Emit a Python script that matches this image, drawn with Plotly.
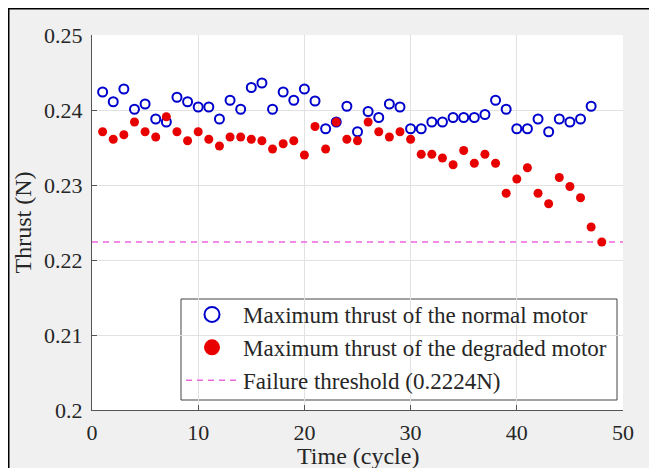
import plotly.graph_objects as go

cycles_normal = list(range(1, 48))
thrust_normal = [0.2424, 0.2411, 0.2428, 0.2401, 0.2408, 0.2388, 0.2384, 0.2417, 0.2411, 0.2404,
                 0.2404, 0.2388, 0.2413, 0.2401, 0.2430, 0.2436, 0.2401, 0.2424, 0.2413, 0.2428,
                 0.2412, 0.2375, 0.2384, 0.2405, 0.2371, 0.2398, 0.2390, 0.2408, 0.2404, 0.2375,
                 0.2375, 0.2384, 0.2384, 0.2390, 0.2390, 0.2390, 0.2394, 0.2413, 0.2401, 0.2375,
                 0.2375, 0.2388, 0.2371, 0.2388, 0.2384, 0.2388, 0.2405]

cycles_degraded = list(range(1, 49))
thrust_degraded = [0.2371, 0.2361, 0.2367, 0.2384, 0.2371, 0.2364, 0.2391, 0.2371, 0.2359, 0.2371,
                   0.2361, 0.2352, 0.2364, 0.2364, 0.2361, 0.2359, 0.2348, 0.2355, 0.2359, 0.2340,
                   0.2378, 0.2348, 0.2384, 0.2361, 0.2359, 0.2384, 0.2371, 0.2364, 0.2371, 0.2361,
                   0.2341, 0.2341, 0.2336, 0.2327, 0.2346, 0.2329, 0.2341, 0.2329, 0.2289, 0.2308,
                   0.2323, 0.2289, 0.2275, 0.2310, 0.2298, 0.2283, 0.2244, 0.2224]

threshold = 0.2224
threshold_x = [0, 50]

x_ticks = [0, 10, 20, 30, 40, 50]
y_ticks = [0.2, 0.21, 0.22, 0.23, 0.24, 0.25]
y_ticktext = ["0.2", "0.21", "0.22", "0.23", "0.24", "0.25"]

x_title = "Time (cycle)"
y_title = "Thrust (N)"
legend_names = ["Maximum thrust of the normal motor",
                "Maximum thrust of the degraded motor",
                "Failure threshold (0.2224N)"]

BLUE = "#0000cd"
RED = "#e80000"
PINK = "#ee66dd"
FONT = "Liberation Serif"
TXT = "#262626"

W, H = 657, 468
L, R, T, B = 84, 42, 27, 66
pw, ph = W - L - R, H - T - B


def px_x(x):
    return (x - L) / pw


def px_y(y):
    return (H - B - y) / ph


fig = go.Figure()

fig.add_trace(go.Scatter(
    x=threshold_x, y=[threshold] * len(threshold_x), mode="lines",
    line=dict(color=PINK, width=1.5, dash="6px,5px"), showlegend=False))

fig.add_trace(go.Scatter(
    x=cycles_normal, y=thrust_normal, mode="markers",
    marker=dict(symbol="circle-open", size=9, color=BLUE, line=dict(width=2, color=BLUE)),
    showlegend=False))

fig.add_trace(go.Scatter(
    x=cycles_degraded, y=thrust_degraded, mode="markers",
    marker=dict(symbol="circle", size=9, color=RED, line=dict(width=0)),
    showlegend=False))

# legend entries
fig.add_trace(go.Scatter(
    x=[None], y=[None], mode="markers", name=legend_names[0],
    marker=dict(symbol="circle-open", size=15, color=BLUE, line=dict(width=2, color=BLUE))))
fig.add_trace(go.Scatter(
    x=[None], y=[None], mode="markers", name=legend_names[1],
    marker=dict(symbol="circle", size=16, color=RED)))
fig.add_trace(go.Scatter(
    x=[None], y=[None], mode="lines", name=legend_names[2],
    line=dict(color=PINK, width=1.5, dash="6px,5px")))

axis_common = dict(
    showline=True, linecolor="#555555", linewidth=1, mirror=False,
    ticks="inside", ticklen=5, tickcolor="#555555",
    showgrid=True, gridcolor="#e2e2e2", gridwidth=1, zeroline=False,
    tickfont=dict(family=FONT, size=22, color=TXT),
)

fig.update_xaxes(range=[0, 50], tickvals=x_ticks, ticklabelstandoff=3, **axis_common)
fig.update_yaxes(range=[0.2, 0.25], tickvals=y_ticks, ticktext=y_ticktext, ticklabelstandoff=4,
                 title=dict(text=y_title, font=dict(family=FONT, size=24, color=TXT), standoff=5),
                 **axis_common)

fig.update_layout(
    width=W, height=H,
    margin=dict(l=L, r=R, t=T, b=B, autoexpand=False),
    paper_bgcolor="#f0f0f0", plot_bgcolor="white",
    legend=dict(x=px_x(173), y=px_y(285), xanchor="left", yanchor="top",
                bgcolor="rgba(0,0,0,0)", borderwidth=0,
                font=dict(family=FONT, size=23, color=TXT), itemwidth=52),
    annotations=[
        dict(text=x_title, xref="paper", yref="paper", x=0.5, y=px_y(433),
             xanchor="center", yanchor="top", showarrow=False,
             font=dict(family=FONT, size=24, color=TXT)),
    ],
    shapes=[
        dict(type="rect", xref="paper", yref="paper",
             x0=px_x(173), x1=px_x(609), y0=px_y(291), y1=px_y(392),
             fillcolor="white", line=dict(color="#444444", width=1), layer="between"),
        dict(type="line", xref="paper", yref="paper", x0=px_x(0), x1=px_x(W), y0=px_y(0.5), y1=px_y(0.5),
             line=dict(color="black", width=2), layer="above"),
        dict(type="line", xref="paper", yref="paper", x0=px_x(0.5), x1=px_x(0.5), y0=px_y(0), y1=px_y(H),
             line=dict(color="black", width=2), layer="above"),
    ],
)

fig.write_html("out.html")
